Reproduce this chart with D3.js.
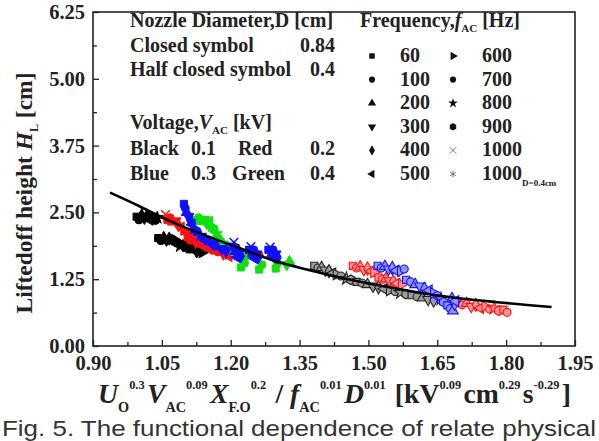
<!DOCTYPE html>
<html><head><meta charset="utf-8">
<script src="https://cdn.jsdelivr.net/npm/d3@7"></script>
<style>body{margin:0;background:#fff}svg{display:block}</style></head><body>
<script>
// ---------- data ----------
const xTicks = [0.90, 1.05, 1.20, 1.35, 1.50, 1.65, 1.80, 1.95];
const yTicks = [0.00, 1.25, 2.50, 3.75, 5.00, 6.25];
const freqList = ["60","100","200","300","400","500","600","700","800","900","1000","1000D"];

// fitted curve [X, H]
const fitCurve = [[0.937,2.87],[1.00,2.62],[1.052,2.40],[1.10,2.22],[1.166,2.00],[1.242,1.76],[1.30,1.58],
  [1.372,1.42],[1.4375,1.28],[1.52,1.14],[1.655,0.94],[1.78,0.82],[1.899,0.73]];

// closed symbols, D = 0.84 cm  [X, H, frequency]
const black01 = [[0.995,2.42,"60"],[1.000,2.36,"100"],[1.006,2.45,"200"],[1.012,2.39,"300"],[1.018,2.44,"400"],[1.024,2.36,"500"],
  [1.030,2.41,"600"],[1.036,2.35,"700"],[1.040,2.40,"800"],
  [1.042,2.02,"60"],[1.048,1.97,"100"],[1.054,2.03,"200"],[1.060,1.98,"300"],[1.066,2.01,"400"],[1.072,1.96,"500"],[1.078,1.99,"600"],
  [1.084,1.92,"700"],[1.090,1.87,"800"],[1.096,1.90,"900"],[1.102,1.84,"60"],[1.108,1.88,"100"],[1.114,1.80,"200"],[1.120,1.84,"300"],
  [1.126,1.77,"400"],[1.132,1.80,"500"],[1.138,1.75,"600"]];
const red02 = [[1.058,2.46,"1000"],[1.062,2.36,"60"],[1.068,2.40,"100"],[1.074,2.32,"200"],[1.080,2.34,"300"],[1.086,2.26,"400"],
  [1.092,2.22,"500"],[1.098,2.17,"600"],[1.104,2.13,"700"],
  [1.106,2.04,"60"],[1.112,1.98,"100"],[1.118,2.01,"200"],[1.124,1.94,"300"],[1.130,1.97,"400"],[1.136,1.89,"500"],[1.142,1.92,"600"],
  [1.148,1.85,"700"],[1.154,1.88,"800"],[1.160,1.80,"900"],[1.166,1.83,"60"],[1.172,1.76,"100"],[1.178,1.79,"200"],[1.184,1.72,"300"],
  [1.190,1.74,"400"],[1.196,1.68,"500"],[1.232,1.72,"600"],[1.262,1.70,"700"]];
const blue03 = [[1.098,2.66,"60"],[1.101,2.58,"100"],[1.104,2.50,"200"],[1.108,2.42,"300"],[1.112,2.35,"400"],[1.116,2.27,"500"],
  [1.120,2.20,"600"],[1.126,2.13,"700"],[1.134,2.07,"800"],[1.142,2.01,"900"],[1.150,1.96,"60"],[1.160,1.91,"100"],[1.170,1.86,"200"],
  [1.180,1.82,"300"],[1.190,1.78,"400"],
  [1.207,1.94,"1000"],[1.204,1.86,"60"],[1.212,1.84,"100"],[1.210,1.77,"200"],[1.218,1.74,"300"],[1.222,1.68,"400"],[1.214,1.66,"500"],
  [1.244,1.86,"1000"],[1.240,1.80,"60"],[1.250,1.80,"100"],[1.248,1.73,"200"],[1.256,1.72,"300"],[1.260,1.66,"400"],[1.252,1.64,"500"],
  [1.286,1.85,"1000"],[1.282,1.80,"60"],[1.292,1.80,"100"],[1.290,1.73,"200"],[1.298,1.72,"300"],[1.302,1.66,"400"],[1.294,1.64,"500"]];
const green04 = [[1.124,2.36,"60"],[1.130,2.40,"100"],[1.136,2.33,"200"],[1.142,2.37,"300"],[1.148,2.30,"400"],[1.154,2.33,"500"],
  [1.158,2.24,"600"],[1.164,2.18,"700"],[1.168,2.10,"800"],[1.172,2.02,"900"],[1.178,1.95,"60"],[1.186,1.90,"100"],[1.194,1.85,"200"],
  [1.202,1.80,"300"],[1.212,1.74,"400"],[1.222,1.70,"500"],[1.232,1.66,"600"],
  [1.222,1.47,"60"],[1.230,1.55,"100"],[1.262,1.43,"60"],[1.268,1.52,"100"],[1.298,1.45,"60"],[1.302,1.55,"100"],[1.328,1.58,"200"],[1.322,1.52,"300"]];

// half closed symbols, D = 0.4 cm
const black01h = [[1.382,1.50,"60"],[1.390,1.46,"100"],[1.398,1.47,"200"],[1.406,1.42,"300"],[1.414,1.40,"400"],[1.422,1.36,"500"],
  [1.430,1.34,"600"],[1.440,1.31,"700"],[1.452,1.26,"800"],[1.462,1.24,"900"],[1.474,1.20,"60"],[1.486,1.18,"100"],[1.498,1.15,"200"],
  [1.510,1.12,"300"],[1.522,1.10,"400"],[1.534,1.07,"500"],[1.546,1.04,"600"],[1.558,1.02,"700"],[1.570,1.00,"800"],[1.582,0.97,"900"],
  [1.594,0.95,"60"],[1.606,0.92,"100"],[1.618,0.90,"200"],[1.630,0.87,"300"],[1.642,0.85,"400"]];
const red02h = [[1.466,1.50,"60"],[1.474,1.46,"100"],[1.482,1.48,"200"],[1.490,1.43,"300"],[1.498,1.45,"400"],[1.506,1.40,"500"],
  [1.512,1.38,"600"],[1.522,1.28,"60"],[1.530,1.25,"100"],[1.538,1.26,"200"],[1.546,1.22,"300"],[1.554,1.21,"400"],[1.562,1.17,"500"],
  [1.572,1.15,"600"],[1.695,0.82,"60"],[1.704,0.77,"100"],[1.714,0.80,"200"],[1.724,0.74,"300"],[1.734,0.77,"400"],[1.744,0.71,"500"],
  [1.754,0.74,"600"],[1.764,0.69,"700"],[1.774,0.71,"800"],[1.784,0.66,"900"],[1.794,0.68,"60"],[1.802,0.63,"100"]];
const blue03h = [[1.520,1.50,"60"],[1.528,1.46,"100"],[1.536,1.49,"200"],[1.544,1.44,"300"],[1.552,1.46,"400"],[1.560,1.41,"500"],
  [1.570,1.40,"600"],[1.578,1.44,"700"],[1.582,1.24,"60"],[1.592,1.20,"100"],[1.602,1.15,"200"],[1.612,1.12,"300"],[1.622,1.07,"400"],
  [1.632,1.04,"500"],[1.642,0.99,"600"],[1.650,0.94,"700"],[1.658,0.88,"800"],[1.664,0.82,"900"],[1.672,0.76,"60"],[1.678,0.70,"100"],
  [1.684,0.66,"200"],[1.688,0.78,"300"],[1.682,0.88,"400"],[1.690,0.84,"500"]];

// ---------- drawing ----------
const W = 599, H = 441;
const L = 93, R = 575, T = 12, B = 346;
const svg = d3.select("body").append("svg").attr("width", W).attr("height", H);
const x = d3.scaleLinear().domain([0.90, 1.95]).range([L, R]);
const y = d3.scaleLinear().domain([0, 6.25]).range([B, T]);
const serif = "'Liberation Serif','Times New Roman',Times,serif";
const ink = "#222";
const FS = 20;

// symbols
function hexagon(size){ const r=Math.sqrt(size/2.2); let p=""; for(let i=0;i<6;i++){const a=-Math.PI/2+i*Math.PI*2/6; p+=(i?"L":"M")+(r*Math.cos(a)).toFixed(2)+","+(r*Math.sin(a)).toFixed(2);} return p+"Z"; }
const shapeInfo = {
  "60":{t:d3.symbolSquare,r:0}, "100":{t:d3.symbolCircle,r:0}, "200":{t:d3.symbolTriangle,r:0}, "300":{t:d3.symbolTriangle,r:180},
  "400":{t:d3.symbolDiamond,r:0}, "500":{t:d3.symbolTriangle,r:-90}, "600":{t:d3.symbolTriangle,r:90}, "700":{t:d3.symbolCircle,r:0},
  "800":{t:d3.symbolStar,r:0}, "900":{t:"hex",r:0}, "1000":{t:d3.symbolTimes,r:0,s:true}, "1000D":{t:d3.symbolAsterisk,r:0,s:true}
};
function symPath(f, size){ const s=shapeInfo[f]; return s.t==="hex"? hexagon(size) : d3.symbol(s.t, size)(); }

function drawPoints(data, color, half){
  const g = svg.append("g");
  data.forEach(d => {
    const s = shapeInfo[d[2]];
    const p = g.append("path").attr("d", symPath(d[2], 50))
      .attr("transform", `translate(${x(d[0])},${y(d[1])}) rotate(${s.r})`);
    if (s.s) p.attr("fill","none").attr("stroke",color).attr("stroke-width",1.5);
    else if (half) p.attr("fill", d3.interpolateRgb(color, "#fff")(0.55)).attr("stroke", color).attr("stroke-width",1.1);
    else p.attr("fill", color).attr("stroke", color).attr("stroke-width",1);
  });
}

// frame
svg.append("rect").attr("x",L).attr("y",T).attr("width",R-L).attr("height",B-T)
  .attr("fill","none").attr("stroke",ink).attr("stroke-width",1.6);

// ticks (inward)
const xAxis = d3.axisBottom(x).tickValues(xTicks).tickSize(-6).tickFormat(d3.format(".2f")).tickPadding(9);
svg.append("g").attr("transform",`translate(0,${B})`).call(xAxis);
const xMinor = d3.axisBottom(x).tickValues(xTicks.slice(0,-1).map((v,i)=>(v+xTicks[i+1])/2)).tickSize(-4).tickFormat("");
svg.append("g").attr("transform",`translate(0,${B})`).call(xMinor);
const yAxis = d3.axisLeft(y).tickValues(yTicks).tickSize(-6).tickFormat(d3.format(".2f")).tickPadding(8);
svg.append("g").attr("transform",`translate(${L},0)`).call(yAxis);
const yMinor = d3.axisLeft(y).tickValues(yTicks.slice(0,-1).map((v,i)=>(v+yTicks[i+1])/2)).tickSize(-4).tickFormat("");
svg.append("g").attr("transform",`translate(${L},0)`).call(yMinor);
svg.selectAll(".domain").remove();
svg.selectAll(".tick line").attr("stroke",ink).attr("stroke-width",1.3);
svg.selectAll(".tick text").attr("font-family",serif).attr("font-weight","bold").attr("font-size",20.5).attr("fill",ink);

// points
drawPoints(black01, "#000", false);
drawPoints(black01h, "#222", true);
drawPoints(red02, "#ff1010", false);
drawPoints(red02h, "#ff1010", true);
drawPoints(green04, "#10e010", false);
drawPoints(blue03, "#1010ff", false);
drawPoints(blue03h, "#1010ff", true);

// fit curve
svg.append("path").datum(fitCurve)
  .attr("d", d3.line().x(d=>x(d[0])).y(d=>y(d[1])).curve(d3.curveMonotoneX))
  .attr("fill","none").attr("stroke","#000").attr("stroke-width",2.6);

// ---------- legend text ----------
function txt(xp, yp, size, anchor){ return svg.append("text").attr("x",xp).attr("y",yp).attr("font-family",serif)
  .attr("font-weight","bold").attr("font-size",size).attr("fill",ink).attr("text-anchor",anchor||"start"); }
txt(130,27,FS).text("Nozzle Diameter,D [cm]");
txt(130,52,FS).text("Closed symbol");
txt(335,52,FS,"end").text("0.84");
txt(130,76,FS).text("Half closed symbol");
txt(335,76,FS,"end").text("0.4");
const vt = txt(130,129,FS);
vt.append("tspan").text("Voltage,");
vt.append("tspan").attr("font-style","italic").text("V");
vt.append("tspan").attr("font-size",11).attr("dy",5).text("AC");
vt.append("tspan").attr("dy",-5).text(" [kV]");
txt(130,155,FS).text("Black");
txt(191,155,FS).text("0.1");
txt(238,155,FS).text("Red");
txt(335,155,FS,"end").text("0.2");
txt(130,180,FS).text("Blue");
txt(191,180,FS).text("0.3");
txt(232,180,FS).text("Green");
txt(335,180,FS,"end").text("0.4");

const ft = txt(360,27,FS);
ft.append("tspan").text("Frequency,");
ft.append("tspan").attr("font-style","italic").text("f");
ft.append("tspan").attr("font-size",11).attr("dy",5).text("AC");
ft.append("tspan").attr("dy",-5).text(" [Hz]");

freqList.forEach((f,i) => {
  const col = Math.floor(i/6), row = i%6;
  const mx = col ? 453 : 372, tx = col ? 482 : 400, by = 62 + row*23.6;
  const s = shapeInfo[f];
  const p = svg.append("path").attr("d", symPath(f, 30)).attr("transform",`translate(${mx},${by-6}) rotate(${s.r})`);
  if (s.s) p.attr("fill","none").attr("stroke","#777").attr("stroke-width",1);
  else p.attr("fill","#111");
  const t = txt(tx, by, FS);
  if (f === "1000D") { t.append("tspan").text("1000"); t.append("tspan").attr("font-size",9).attr("dy",6).text("D=0.4cm"); }
  else t.text(f);
});

// ---------- axis titles ----------
const xt = svg.append("text").attr("x",98).attr("y",403).attr("font-family",serif).attr("font-weight","bold")
  .attr("font-size",27.7).attr("fill",ink);
function part(sel, main, sub, sup, italic){
  if (main) sel.append("tspan").attr("font-style",italic?"italic":"normal").text(main);
  let dy=0;
  if (sub){ sel.append("tspan").attr("font-size",14.3).attr("dy",9).attr("font-style","normal").text(sub); dy=9; }
  if (sup){ sel.append("tspan").attr("font-size",12.4).attr("dy",-dy-14).attr("font-style","normal").text(sup); sel.append("tspan").attr("dy",14).text("\u200A"); }
  else if (dy){ sel.append("tspan").attr("dy",-dy).text("\u200A"); }
}
part(xt,"U","O","0.3",true);
part(xt,"V","AC","0.09",true);
part(xt,"X","F.O","0.2",true);
xt.append("tspan").text(" / ");
part(xt,"f","AC","0.01",true);
part(xt,"D",null,"0.01",true);
xt.append("tspan").text(" [kV");
part(xt,null,null,"0.09");
xt.append("tspan").text("cm");
part(xt,null,null,"0.29");
xt.append("tspan").text("s");
part(xt,null,null,"-0.29");
xt.append("tspan").text("]");

const yt = svg.append("text").attr("transform","translate(32,193) rotate(-90)").attr("text-anchor","middle")
  .attr("font-family",serif).attr("font-weight","bold").attr("font-size",23.5).attr("fill",ink);
yt.append("tspan").text("Liftedoff height ");
yt.append("tspan").attr("font-style","italic").text("H");
yt.append("tspan").attr("font-size",12).attr("dy",6).text("L");
yt.append("tspan").attr("dy",-6).text(" [cm]");

// caption
svg.append("text").attr("x",2).attr("y",436).attr("font-family","'Liberation Sans',Arial,sans-serif")
  .attr("font-size",22).attr("fill","#333").attr("textLength",594).attr("lengthAdjust","spacingAndGlyphs")
  .text("Fig. 5. The functional dependence of relate physical");
</script>
</body></html>
